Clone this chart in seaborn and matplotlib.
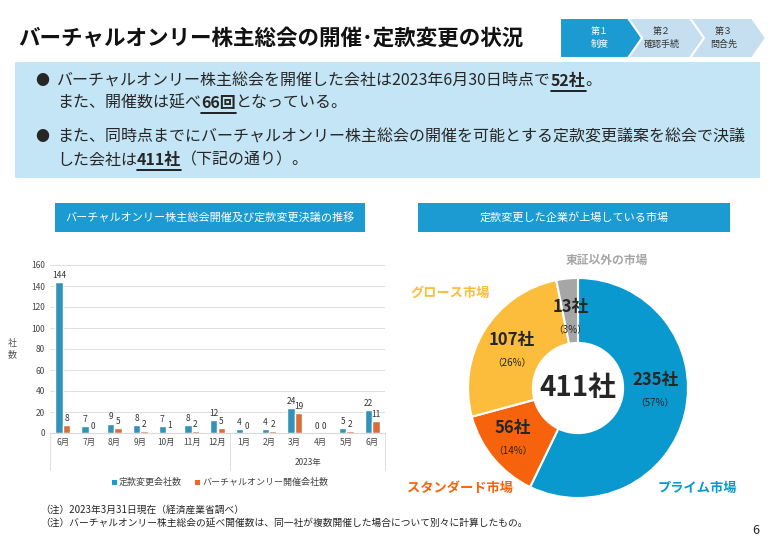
import matplotlib.pyplot as plt
import matplotlib.patches as mpatches
import pandas as pd
import seaborn as sns

months = ["6月", "7月", "8月", "9月", "10月", "11月", "12月", "1月", "2月", "3月", "4月", "5月", "6月"]
teikan = [144, 7, 9, 8, 7, 8, 12, 4, 4, 24, 0, 5, 22]
virtual = [8, 0, 5, 2, 1, 2, 5, 0, 2, 19, 0, 2, 11]
series_names = ["定款変更会社数", "バーチャルオンリー開催会社数"]

markets = ["プライム市場", "スタンダード市場", "グロース市場", "東証以外の市場"]
market_counts = [235, 56, 107, 13]
market_pct = ["57%", "14%", "26%", "3%"]

BLUE = "#1b9bd1"
PIE_BLUE = "#0a99cf"
ORANGE = "#f26522"
JP = ["Noto Sans CJK JP", "DejaVu Sans"]

sns.set_style("white")
plt.rcParams["font.family"] = JP

W, H = 778, 541
fig = plt.figure(figsize=(W / 100, H / 100), dpi=100)
renderer = fig.canvas.get_renderer()


def fx(px):
    return px / W


def fy(py):
    return 1 - py / H


def box(x0, y0, x1, y1, color, **kw):
    fig.patches.append(mpatches.Rectangle((fx(x0), fy(y1)), fx(x1 - x0), (y1 - y0) / H,
                                          transform=fig.transFigure, color=color, lw=0, **kw))


def runs(x, y, parts, size=11.5):
    # draw consecutive text pieces; bold pieces get an underline
    for s, bold in parts:
        t = fig.text(fx(x), fy(y), s, fontsize=size, va="center",
                     fontweight="bold" if bold else "normal")
        w = t.get_window_extent(renderer).width
        if bold:
            fig.add_artist(plt.Line2D([fx(x), fx(x + w)], [fy(y + 10), fy(y + 10)], color="black", lw=1.2))
        x += w


# title and step chevrons
fig.text(fx(18), fy(38), "バーチャルオンリー株主総会の開催･定款変更の状況", fontsize=15.5,
         fontweight="bold", va="center", color="#111111")
steps = [("第１\n制度", "#1b9bd1", "white"), ("第２\n確認手続", "#c5dff0", "#333333"),
         ("第３\n問合先", "#c5dff0", "#333333")]
for i, (lab, c, tc) in enumerate(steps):
    x0 = 560 + i * 62
    pts = [(x0, 18), (x0 + 68, 18), (x0 + 82, 38), (x0 + 68, 58), (x0, 58)]
    if i > 0:
        pts.append((x0 + 14, 38))
    pts = [(fx(a), fy(b)) for a, b in pts]
    fig.patches.append(mpatches.Polygon(pts, closed=True, transform=fig.transFigure,
                                        fc=c, ec="white", lw=1.5, zorder=3 - i))
    fig.text(fx(x0 + 40), fy(38), lab, ha="center", va="center", fontsize=6.5, color=tc,
             linespacing=1.6, zorder=5)

# summary box
box(15, 62, 760, 178, "#c3e5f5")
fig.text(fx(35), fy(81), "●", fontsize=10, va="center")
runs(57, 81, [("バーチャルオンリー株主総会を開催した会社は2023年6月30日時点で", False), ("52社", True), ("。", False)])
runs(57, 103, [("また、開催数は延べ", False), ("66回", True), ("となっている。", False)])
fig.text(fx(35), fy(137), "●", fontsize=10, va="center")
runs(57, 137, [("また、同時点までにバーチャルオンリー株主総会の開催を可能とする定款変更議案を総会で決議", False)])
runs(57, 160, [("した会社は", False), ("411社", True), ("（下記の通り）。", False)])

# panel headers
box(55, 203, 365, 232, BLUE)
fig.text(fx(210), fy(217), "バーチャルオンリー株主総会開催及び定款変更決議の推移", ha="center", va="center",
         fontsize=8, color="white")
box(418, 203, 730, 232, BLUE)
fig.text(fx(574), fy(217), "定款変更した企業が上場している市場", ha="center", va="center",
         fontsize=8, color="white")

# bar chart
ax = fig.add_axes([fx(50), fy(433), fx(335), (433 - 265) / H])
df = pd.DataFrame({
    "idx": list(range(len(months))) * 2,
    "value": teikan + virtual,
    "series": [series_names[0]] * len(months) + [series_names[1]] * len(months),
})
sns.barplot(data=df, x="idx", y="value", hue="series", palette=[BLUE, ORANGE],
            width=0.58, gap=0.02, ax=ax, legend=False)
for cont in ax.containers:
    ax.bar_label(cont, fontsize=6, padding=1.5, color="#333333")
ax.set_ylim(0, 160)
ax.set_yticks(range(0, 161, 20))
ax.set_xticks(range(len(months)))
ax.set_xticklabels(months)
ax.tick_params(labelsize=6, colors="#444444", length=0)
ax.grid(axis="y", color="#d9d9d9", lw=0.6)
ax.set_axisbelow(True)
for s in ["top", "right", "left"]:
    ax.spines[s].set_visible(False)
ax.spines["bottom"].set_color("#d9d9d9")
ax.set_xlabel("")
ax.set_ylabel("社\n数", rotation=0, fontsize=6.5, color="#555555", labelpad=14, va="center")
for xp in [50, 230, 385]:
    fig.add_artist(plt.Line2D([fx(xp), fx(xp)], [fy(433), fy(470)], color="#d9d9d9", lw=0.6))
fig.text(fx(308), fy(463), "2023年", ha="center", va="center", fontsize=6, color="#444444")
for xs, c, lab in [(112, BLUE, series_names[0]), (195, ORANGE, series_names[1])]:
    box(xs, 480, xs + 5, 485, c)
    fig.text(fx(xs + 7), fy(482.5), lab, va="center", fontsize=6.5, color="#444444")

# donut chart
cx, cy, r = 578, 388, 110
pax = fig.add_axes([fx(cx - r), fy(cy + r), 2 * r / W, 2 * r / H])
pie_colors = [PIE_BLUE, "#f7630c", "#fbbd3b", "#a6a6a6"]
pax.pie(market_counts, colors=pie_colors, startangle=90, counterclock=False, radius=1,
        wedgeprops=dict(width=0.59, edgecolor="white", lw=1.5))
pax.set_xlim(-1, 1)
pax.set_ylim(-1, 1)
pax.set_aspect("equal")
pax.text(0, 0, "411社", ha="center", va="center", fontsize=20, fontweight="bold")
lab_pos = [(0.70, 0.07), (-0.59, -0.36), (-0.6, 0.44), (-0.07, 0.74)]
for (x, y), n, p in zip(lab_pos, market_counts, market_pct):
    pax.text(x, y, f"{n}社", ha="center", va="center", fontsize=12, fontweight="bold")
    pax.text(x, y - 0.21, f"（{p}）", ha="center", va="center", fontsize=7)
fig.text(fx(697), fy(488), markets[0], ha="center", va="center", fontsize=9.5, fontweight="bold", color=PIE_BLUE)
fig.text(fx(460), fy(488), markets[1], ha="center", va="center", fontsize=9.5, fontweight="bold", color="#f7630c")
fig.text(fx(450), fy(293), markets[2], ha="center", va="center", fontsize=9.5, fontweight="bold", color="#fbbd3b")
fig.text(fx(607), fy(260), markets[3], ha="center", va="center", fontsize=8.5, fontweight="bold", color="#a6a6a6")

# footnotes
fig.text(fx(40), fy(510), "（注）2023年3月31日現在（経済産業省調べ）", fontsize=7, va="center")
fig.text(fx(40), fy(523), "（注）バーチャルオンリー株主総会の延べ開催数は、同一社が複数開催した場合について別々に計算したもの。",
         fontsize=7, va="center")
fig.text(fx(752), fy(530), "6", fontsize=9, va="center")

fig.savefig("out.png", dpi=100)
